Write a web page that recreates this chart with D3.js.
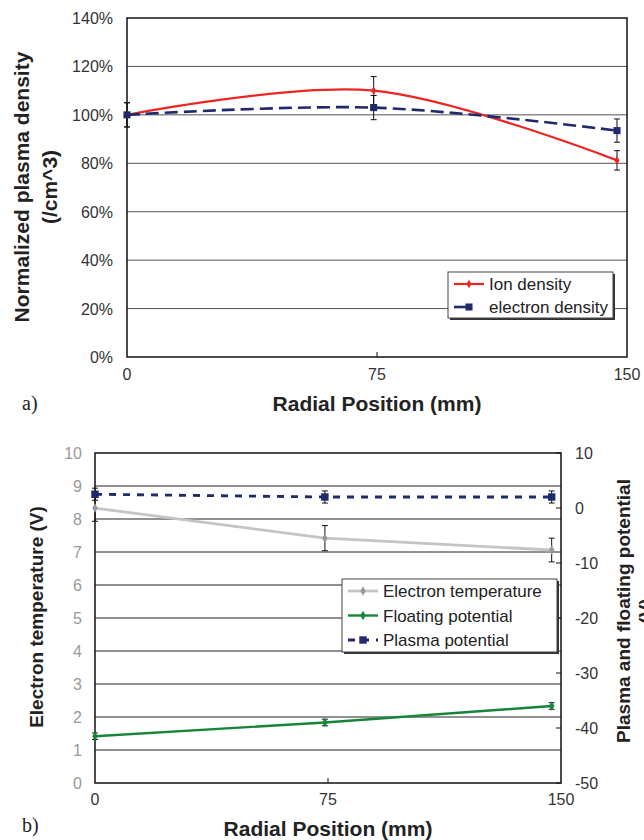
<!DOCTYPE html>
<meta charset="utf-8">
<body style="margin:0;background:#fff">
<script src="https://d3js.org/d3.v7.min.js"></script>
<script>

// Data.

var positions = [0, 74, 147];

// a) normalized densities (%)
var ionDensity = [100, 110, 81.2];
var ionErr = [5, 5.8, 4];
var electronDensity = [100, 103, 93.5];
var electronErr = [5, 5, 4.8];
var densityTicks = [0, 20, 40, 60, 80, 100, 120, 140];

// b) temperature (V, left axis) and potentials (V, right axis)
var electronTemp = [8.33, 7.42, 7.06];
var tempErr = [0.4, 0.38, 0.36];
var floatingPot = [-41.5, -39.0, -36.0];
var floatingErr = [0.6, 0.6, 0.6];
var plasmaPot = [2.5, 2.0, 2.0];
var plasmaErr = [1.1, 1.1, 1.1];
var tempTicks = [0, 1, 2, 3, 4, 5, 6, 7, 8, 9, 10];
var potTicks = [10, 0, -10, -20, -30, -40, -50];

var xTicks = [0, 75, 150];

var font = "'Liberation Sans', Arial, sans-serif";

var svg = d3.select("body").append("svg")
    .attr("width", 644)
    .attr("height", 840)
    .style("display", "block")
    .style("background", "#fff");

// Helpers.

function errorBars(g, x, y, vals, errs) {
  vals.forEach(function(v, i) {
    var cx = x(positions[i]), y0 = y(v - errs[i]), y1 = y(v + errs[i]);
    g.append("line").attr("x1", cx).attr("x2", cx).attr("y1", y0).attr("y2", y1)
        .attr("stroke", "#111").attr("stroke-width", 1);
    [y0, y1].forEach(function(yy) {
      g.append("line").attr("x1", cx - 3).attr("x2", cx + 3).attr("y1", yy).attr("y2", yy)
          .attr("stroke", "#111").attr("stroke-width", 1);
    });
  });
}

function markers(g, x, y, vals, shape, size, color) {
  g.selectAll(null).data(vals).enter().append("path")
      .attr("transform", function(d, i) { return "translate(" + x(positions[i]) + "," + y(d) + ")"; })
      .attr("d", d3.symbol().type(shape).size(size))
      .attr("fill", color);
}

function legend(g, x0, y0, w, h, items, rowH) {
  g.append("rect").attr("x", x0 + 2).attr("y", y0 + 2).attr("width", w).attr("height", h)
      .attr("fill", "#333");
  g.append("rect").attr("x", x0).attr("y", y0).attr("width", w).attr("height", h)
      .attr("fill", "#fff").attr("stroke", "#444").attr("stroke-width", 1);
  items.forEach(function(it, i) {
    var cy = y0 + 12 + i * rowH;
    g.append("line").attr("x1", x0 + 6).attr("x2", x0 + 36).attr("y1", cy).attr("y2", cy)
        .attr("stroke", it.color).attr("stroke-width", it.width)
        .attr("stroke-dasharray", it.dash || null);
    g.append("path").attr("transform", "translate(" + (x0 + 21) + "," + cy + ")")
        .attr("d", d3.symbol().type(it.shape).size(it.size)).attr("fill", it.mcolor || it.color);
    g.append("text").attr("x", x0 + 41).attr("y", cy + 6)
        .attr("font-family", font).attr("font-size", "17px").attr("fill", "#222")
        .text(it.label);
  });
}

// ---------- a) plasma density ----------

var xa = d3.scaleLinear().domain([0, 150]).range([127, 627]);
var ya = d3.scaleLinear().domain([0, 140]).range([357, 18]);
var ga = svg.append("g");

ga.selectAll(null).data(densityTicks.slice(1, -1)).enter().append("line")
    .attr("x1", xa(0)).attr("x2", xa(150))
    .attr("y1", function(d) { return ya(d); }).attr("y2", function(d) { return ya(d); })
    .attr("stroke", "#555").attr("stroke-width", 1);

ga.append("rect").attr("x", xa(0)).attr("y", ya(140))
    .attr("width", xa(150) - xa(0)).attr("height", ya(0) - ya(140))
    .attr("fill", "none").attr("stroke", "#111").attr("stroke-width", 1.5);

ga.append("line").attr("x1", xa(75)).attr("x2", xa(75)).attr("y1", ya(0)).attr("y2", ya(0) - 5)
    .attr("stroke", "#111");

ga.selectAll(null).data(densityTicks).enter().append("text")
    .attr("x", 113).attr("y", function(d) { return ya(d) + 6; })
    .attr("text-anchor", "end").attr("font-family", font).attr("font-size", "16px")
    .attr("fill", "#333").text(function(d) { return d + "%"; });

ga.selectAll(null).data(xTicks).enter().append("text")
    .attr("x", function(d) { return xa(d); }).attr("y", 380)
    .attr("text-anchor", "middle").attr("font-family", font).attr("font-size", "16px")
    .attr("fill", "#333").text(function(d) { return d; });

var lineA = function(vals) {
  return d3.line().curve(d3.curveCatmullRom.alpha(0))
      .x(function(d, i) { return xa(positions[i]); })
      .y(function(d) { return ya(d); })(vals);
};

errorBars(ga, xa, ya, ionDensity, ionErr);
errorBars(ga, xa, ya, electronDensity, electronErr);

ga.append("path").attr("d", lineA(ionDensity)).attr("fill", "none")
    .attr("stroke", "#ee2424").attr("stroke-width", 2.2);
ga.append("path").attr("d", lineA(electronDensity)).attr("fill", "none")
    .attr("stroke", "#1f2a6b").attr("stroke-width", 2.6).attr("stroke-dasharray", "13,6");

markers(ga, xa, ya, ionDensity, d3.symbolDiamond, 22, "#ee2424");
markers(ga, xa, ya, electronDensity, d3.symbolSquare, 50, "#1f2a6b");

legend(ga, 448, 272, 165, 46, [
  {label: "Ion density", color: "#ee2424", width: 2.2, shape: d3.symbolDiamond, size: 22},
  {label: "electron density", color: "#1f2a6b", width: 2.6, dash: "13,30", shape: d3.symbolSquare, size: 50}
], 23);

ga.append("text").attr("transform", "translate(29,187) rotate(-90)")
    .attr("text-anchor", "middle").attr("font-family", font).attr("font-size", "21px")
    .attr("font-weight", "bold").attr("fill", "#222").text("Normalized plasma density");
ga.append("text").attr("transform", "translate(57,187) rotate(-90)")
    .attr("text-anchor", "middle").attr("font-family", font).attr("font-size", "21px")
    .attr("font-weight", "bold").attr("fill", "#222").text("(/cm^3)");

ga.append("text").attr("x", 377).attr("y", 411)
    .attr("text-anchor", "middle").attr("font-family", font).attr("font-size", "21px")
    .attr("font-weight", "bold").attr("fill", "#222").text("Radial Position (mm)");

ga.append("text").attr("x", 22).attr("y", 410)
    .attr("font-family", "'Liberation Serif', 'Times New Roman', serif").attr("font-size", "20px")
    .attr("fill", "#222").text("a)");

// ---------- b) temperature and potentials ----------

var xb = d3.scaleLinear().domain([0, 150]).range([95, 561]);
var yl = d3.scaleLinear().domain([0, 10]).range([783, 453]);
var yr = d3.scaleLinear().domain([-50, 10]).range([783, 453]);
var gb = svg.append("g");

gb.selectAll(null).data(tempTicks.slice(1, -1)).enter().append("line")
    .attr("x1", xb(0)).attr("x2", xb(150))
    .attr("y1", function(d) { return yl(d); }).attr("y2", function(d) { return yl(d); })
    .attr("stroke", "#222").attr("stroke-width", 1);

gb.append("rect").attr("x", xb(0)).attr("y", yl(10))
    .attr("width", xb(150) - xb(0)).attr("height", yl(0) - yl(10))
    .attr("fill", "none").attr("stroke", "#111").attr("stroke-width", 1.5);

gb.append("line").attr("x1", xb(75)).attr("x2", xb(75)).attr("y1", yl(0)).attr("y2", yl(0) - 5)
    .attr("stroke", "#111");

gb.selectAll(null).data(potTicks).enter().append("line")
    .attr("x1", xb(150) - 5).attr("x2", xb(150))
    .attr("y1", function(d) { return yr(d); }).attr("y2", function(d) { return yr(d); })
    .attr("stroke", "#111");

gb.selectAll(null).data(tempTicks).enter().append("text")
    .attr("x", 82).attr("y", function(d) { return yl(d) + 6; })
    .attr("text-anchor", "end").attr("font-family", font).attr("font-size", "16px")
    .attr("fill", "#9a9a9a").text(function(d) { return d; });

gb.selectAll(null).data(potTicks).enter().append("text")
    .attr("x", 575).attr("y", function(d) { return yr(d) + 6; })
    .attr("font-family", font).attr("font-size", "16px")
    .attr("fill", "#333").text(function(d) { return d; });

gb.selectAll(null).data(xTicks).enter().append("text")
    .attr("x", function(d) { return xb(d); }).attr("y", 805)
    .attr("text-anchor", "middle").attr("font-family", font).attr("font-size", "16px")
    .attr("fill", "#333").text(function(d) { return d; });

var lineB = function(vals, y) {
  return d3.line()
      .x(function(d, i) { return xb(positions[i]); })
      .y(function(d) { return y(d); })(vals);
};

errorBars(gb, xb, yl, electronTemp, tempErr);
errorBars(gb, xb, yr, floatingPot, floatingErr);
errorBars(gb, xb, yr, plasmaPot, plasmaErr);

gb.append("path").attr("d", lineB(electronTemp, yl)).attr("fill", "none")
    .attr("stroke", "#c4c4c4").attr("stroke-width", 2.8);
gb.append("path").attr("d", lineB(floatingPot, yr)).attr("fill", "none")
    .attr("stroke", "#16853a").attr("stroke-width", 2.4);
gb.append("path").attr("d", lineB(plasmaPot, yr)).attr("fill", "none")
    .attr("stroke", "#1f2a6b").attr("stroke-width", 2.8).attr("stroke-dasharray", "7,7");

markers(gb, xb, yl, electronTemp, d3.symbolDiamond, 26, "#999");
markers(gb, xb, yr, floatingPot, d3.symbolDiamond, 26, "#16853a");
markers(gb, xb, yr, plasmaPot, d3.symbolSquare, 55, "#1f2a6b");

legend(gb, 342, 579, 215, 73, [
  {label: "Electron temperature", color: "#c4c4c4", width: 2.8, shape: d3.symbolDiamond, size: 26, mcolor: "#999"},
  {label: "Floating potential", color: "#16853a", width: 2.4, shape: d3.symbolDiamond, size: 26},
  {label: "Plasma potential", color: "#1f2a6b", width: 2.8, dash: "7,7", shape: d3.symbolSquare, size: 55}
], 24.5);

gb.append("text").attr("transform", "translate(43,617) rotate(-90)")
    .attr("text-anchor", "middle").attr("font-family", font).attr("font-size", "19px")
    .attr("font-weight", "bold").attr("fill", "#222").text("Electron temperature (V)");
gb.append("text").attr("transform", "translate(630,611) rotate(-90)")
    .attr("text-anchor", "middle").attr("font-family", font).attr("font-size", "19px")
    .attr("font-weight", "bold").attr("fill", "#222").text("Plasma and floating potential");
gb.append("text").attr("transform", "translate(652,611) rotate(-90)")
    .attr("text-anchor", "middle").attr("font-family", font).attr("font-size", "19px")
    .attr("font-weight", "bold").attr("fill", "#222").text("(V)");

gb.append("text").attr("x", 328).attr("y", 836)
    .attr("text-anchor", "middle").attr("font-family", font).attr("font-size", "21px")
    .attr("font-weight", "bold").attr("fill", "#222").text("Radial Position (mm)");

gb.append("text").attr("x", 22).attr("y", 832)
    .attr("font-family", "'Liberation Serif', 'Times New Roman', serif").attr("font-size", "20px")
    .attr("fill", "#222").text("b)");

</script>
